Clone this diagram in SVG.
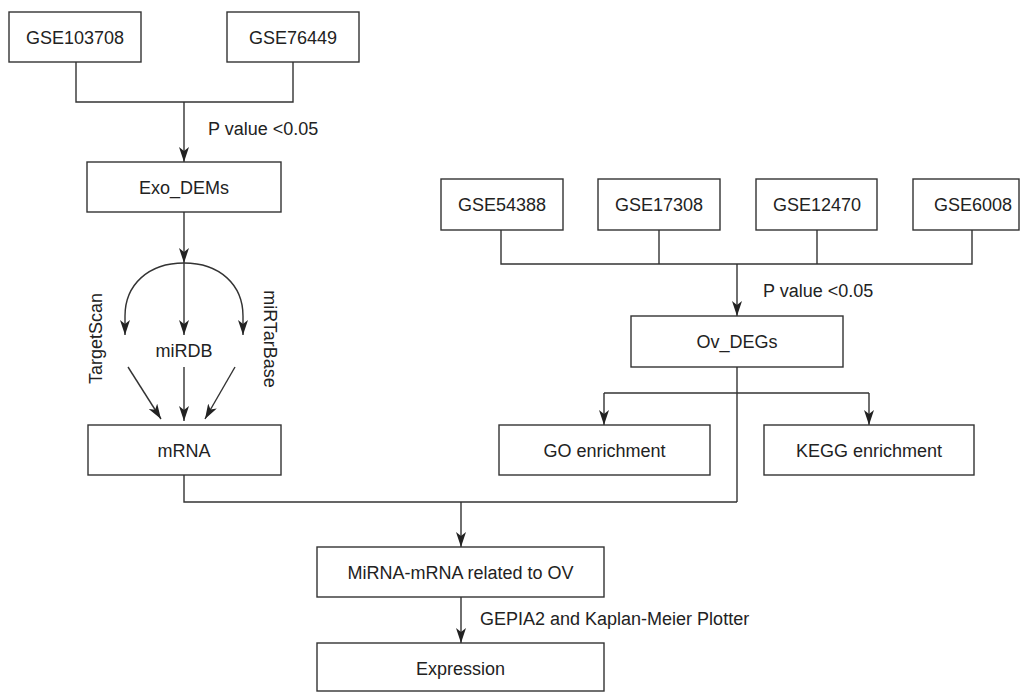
<svg xmlns="http://www.w3.org/2000/svg" width="1021" height="692" viewBox="0 0 1021 692">
<style>
.box{fill:#fff;stroke:#333;stroke-width:1.4}
.t{font-family:"Liberation Sans",Arial,sans-serif;font-size:18px;fill:#222;text-anchor:middle}
.l{font-family:"Liberation Sans",Arial,sans-serif;font-size:18px;fill:#222}
.c{fill:none;stroke:#333;stroke-width:1.4}
.a{fill:none;stroke:#333;stroke-width:1.4;marker-end:url(#ah)}
</style>
<defs>
<marker id="ah" viewBox="0 0 15 10" refX="15" refY="5" markerWidth="15" markerHeight="10" markerUnits="userSpaceOnUse" orient="auto">
<path d="M0,0 L15,5 L0,10 L4,5 z" fill="#222"/>
</marker>
</defs>
<rect width="1021" height="692" fill="#fff"/>
<g id="connectors">
<polyline class="c" points="76,62 76,102 293,102 293,62"/>
<line class="a" x1="184" y1="102" x2="184" y2="162"/>
<line class="a" x1="184" y1="212" x2="184" y2="263"/>
<line class="a" x1="184" y1="263" x2="184" y2="335"/>
<path class="a" d="M184,263 C148,263 125,285 125,316 L125,335"/>
<path class="a" d="M184,263 C220,263 243,285 243,316 L243,335"/>
<line class="a" x1="128" y1="367" x2="161" y2="419"/>
<line class="a" x1="184" y1="367" x2="184" y2="421"/>
<line class="a" x1="235" y1="367" x2="205" y2="419"/>
<polyline class="c" points="501,230 501,264 972,264 972,230"/>
<line class="c" x1="659" y1="230" x2="659" y2="264"/>
<line class="c" x1="817" y1="230" x2="817" y2="264"/>
<line class="a" x1="737" y1="264" x2="737" y2="316"/>
<line class="c" x1="737" y1="367" x2="737" y2="502"/>
<line class="c" x1="604" y1="393" x2="869" y2="393"/>
<line class="a" x1="604" y1="393" x2="604" y2="425"/>
<line class="a" x1="869" y1="393" x2="869" y2="425"/>
<polyline class="c" points="184,475 184,502 737,502"/>
<line class="a" x1="461" y1="502" x2="461" y2="547"/>
<line class="a" x1="461" y1="597" x2="461" y2="643"/>
<text class="l" x="208" y="135">P value &lt;0.05</text>
<text class="l" x="763" y="297">P value &lt;0.05</text>
<text class="l" x="480" y="625">GEPIA2 and Kaplan-Meier Plotter</text>
<text class="t" transform="translate(102,338.5) rotate(-90)">TargetScan</text>
<text class="t" transform="translate(264,339) rotate(90)">miRTarBase</text>
<text class="t" x="184" y="357">miRDB</text>
</g>
<g id="gse103708"><rect class="box" x="9" y="12" width="132" height="50"/><text class="t" x="75" y="43.5">GSE103708</text></g>
<g id="gse76449"><rect class="box" x="227" y="12" width="132" height="50"/><text class="t" x="293" y="43.5">GSE76449</text></g>
<g id="exo_dems"><rect class="box" x="87" y="162" width="194" height="50"/><text class="t" x="184" y="193.5">Exo_DEMs</text></g>
<g id="mrna"><rect class="box" x="88" y="425" width="193" height="50"/><text class="t" x="184" y="456.5">mRNA</text></g>
<g id="gse54388"><rect class="box" x="441" y="179" width="122" height="51"/><text class="t" x="502" y="211">GSE54388</text></g>
<g id="gse17308"><rect class="box" x="598" y="179" width="122" height="51"/><text class="t" x="659" y="211">GSE17308</text></g>
<g id="gse12470"><rect class="box" x="756" y="179" width="121" height="51"/><text class="t" x="817" y="211">GSE12470</text></g>
<g id="gse6008"><rect class="box" x="913" y="179" width="106" height="51"/><text class="t" x="973" y="211">GSE6008</text></g>
<g id="ov_degs"><rect class="box" x="631" y="316" width="212" height="51"/><text class="t" x="737" y="348">Ov_DEGs</text></g>
<g id="go"><rect class="box" x="499" y="425" width="211" height="50"/><text class="t" x="604.5" y="456.5">GO enrichment</text></g>
<g id="kegg"><rect class="box" x="764" y="425" width="210" height="50"/><text class="t" x="869" y="456.5">KEGG enrichment</text></g>
<g id="mirna_mrna"><rect class="box" x="317" y="547" width="287" height="50"/><text class="t" x="460.5" y="578.5">MiRNA-mRNA related to OV</text></g>
<g id="expression"><rect class="box" x="317" y="643" width="287" height="48"/><text class="t" x="460.5" y="674.5">Expression</text></g>
</svg>
